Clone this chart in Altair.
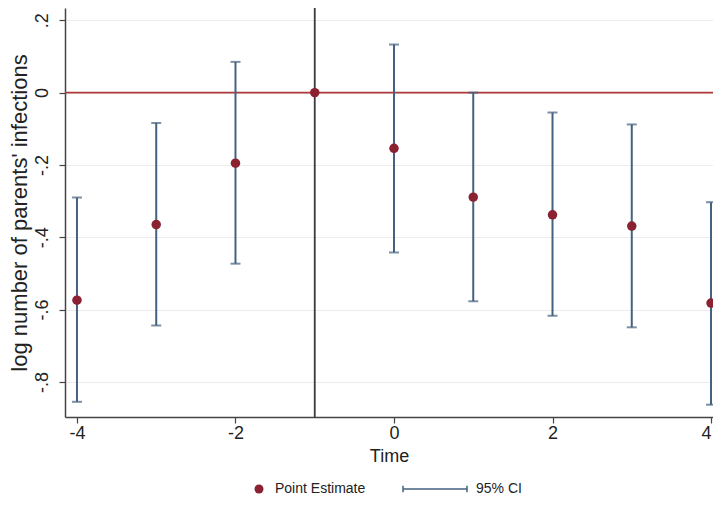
import altair as alt
import pandas as pd

times = [-4, -3, -2, -1, 0, 1, 2, 3, 4]
estimates = [-0.574, -0.365, -0.195, 0.0, -0.154, -0.289, -0.338, -0.369, -0.582]
ci_low = [-0.855, -0.644, -0.473, None, -0.442, -0.577, -0.617, -0.649, -0.863]
ci_high = [-0.290, -0.084, 0.085, None, 0.133, 0.0, -0.055, -0.088, -0.303]
x_ticks = [-4, -2, 0, 2, 4]
y_ticks = [0.2, 0, -0.2, -0.4, -0.6, -0.8]
event_time = [-1]
zero_line = [0]

FONT = "Liberation Sans"
MAROON = "#8b2232"
NAVY = "#44617f"

pts = pd.DataFrame({"time": times, "est": estimates, "series": "Point Estimate"})
ci = pd.DataFrame({"time": times, "lo": ci_low, "hi": ci_high, "series": "95% CI"}).dropna()

xscale = alt.Scale(domain=[-4.151, 4.025], nice=False, zero=False)
yscale = alt.Scale(domain=[-0.897, 0.234], nice=False, zero=False)

xaxis = alt.Axis(values=x_ticks, grid=False, title="Time", labelFontSize=18, titleFontSize=18,
                 labelExpr="toString(datum.value)",
                 labelFont=FONT, titleFont=FONT, titleFontWeight="normal", tickSize=6,
                 labelPadding=1, titlePadding=5, domainColor="#444", tickColor="#444",
                 domainWidth=1.5, tickWidth=1.2, labelColor="#222", titleColor="#222",
                 labelFlush=8, labelOverlap=False)
yaxis = alt.Axis(values=y_ticks, grid=True, gridColor="#ececec", gridWidth=1,
                 title="log number of parents' infections",
                 labelExpr="datum.value == 0 ? '0' : replace(toString(datum.value), '0.', '.')",
                 labelAngle=270, labelAlign="center", labelBaseline="bottom",
                 labelFontSize=18, titleFontSize=22, labelFont=FONT, titleFont=FONT,
                 titleFontWeight="normal", tickSize=6, labelPadding=8, titlePadding=2,
                 domainColor="#444", tickColor="#444", domainWidth=1.5, tickWidth=1.2,
                 labelColor="#222", titleColor="#222", labelFlush=False, labelOverlap=False)

base_x = alt.X("time:Q", scale=xscale, axis=xaxis)

hline = alt.Chart(pd.DataFrame({"z": zero_line})).mark_rule(color="#b33a3a", strokeWidth=1.8).encode(
    y=alt.Y("z:Q", scale=yscale, axis=yaxis)
)
vline = alt.Chart(pd.DataFrame({"t": event_time})).mark_rule(color="#3a3a3a", strokeWidth=1.8).encode(
    x=alt.X("t:Q", scale=xscale, axis=xaxis)
)

ci_legend = alt.Legend(orient="none", legendX=337, legendY=448, title=None,
                       symbolType="M-1,0H1M-1,-0.1V0.1M1,-0.1V0.1", symbolSize=4096,
                       symbolStrokeWidth=1.5, labelFontSize=14, labelFont=FONT,
                       labelOffset=8, padding=0, labelColor="#222")
rules = alt.Chart(ci).mark_rule(strokeWidth=2).encode(
    x=base_x,
    y=alt.Y("lo:Q", scale=yscale, axis=yaxis),
    y2="hi:Q",
    stroke=alt.Stroke("series:N", scale=alt.Scale(domain=["95% CI"], range=[NAVY]), legend=ci_legend),
)
cap_lo = alt.Chart(ci).mark_tick(orient="horizontal", size=10, thickness=2, color=NAVY).encode(
    x=base_x, y=alt.Y("lo:Q", scale=yscale, axis=yaxis)
)
cap_hi = alt.Chart(ci).mark_tick(orient="horizontal", size=10, thickness=2, color=NAVY).encode(
    x=base_x, y=alt.Y("hi:Q", scale=yscale, axis=yaxis)
)

pt_legend = alt.Legend(orient="none", legendX=187, legendY=474, title=None, symbolType="circle",
                       symbolSize=81, labelFontSize=14, labelFont=FONT, labelOffset=9,
                       padding=0, labelColor="#222", symbolOpacity=1)
points = alt.Chart(pts).mark_circle(size=90, opacity=1).encode(
    x=base_x,
    y=alt.Y("est:Q", scale=yscale, axis=yaxis),
    color=alt.Color("series:N", scale=alt.Scale(domain=["Point Estimate"], range=[MAROON]), legend=pt_legend),
)

chart = alt.layer(hline, vline, rules, cap_lo, cap_hi, points).resolve_scale(
    color="independent", stroke="independent"
).properties(
    width=648, height=409,
    autosize=alt.AutoSizeParams(type="none"),
    padding={"left": 57, "top": 0, "right": 0, "bottom": 80},
    background="white",
).configure_view(stroke=None)

chart.save("out.html", embed_options={"renderer": "svg", "actions": False})
